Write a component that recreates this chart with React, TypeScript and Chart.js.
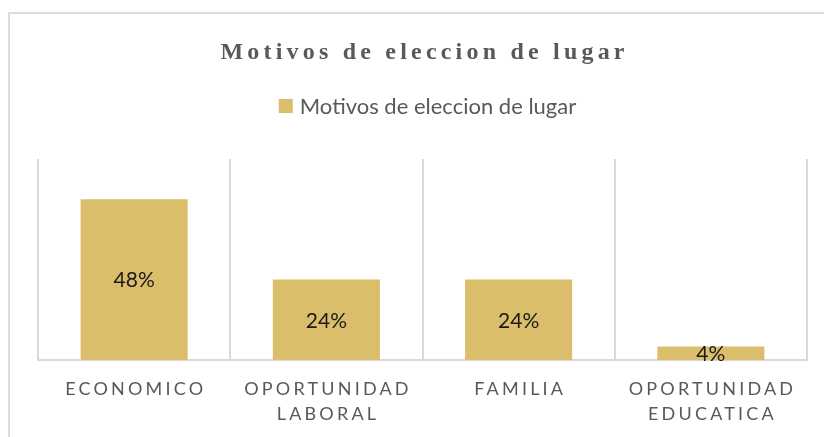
import React, { useEffect, useRef } from "react";
import { Chart, registerables } from "chart.js";

Chart.register(...registerables);

// ---- data ----
const categories: string[][] = [
  ["ECONOMICO"],
  ["OPORTUNIDAD", "LABORAL"],
  ["FAMILIA"],
  ["OPORTUNIDAD", "EDUCATICA"],
];
const values: number[] = [0.48, 0.24, 0.24, 0.04];
const valueLabels: string[] = ["48%", "24%", "24%", "4%"];
const seriesName = "Motivos de eleccion de lugar";
const chartTitle = "Motivos de eleccion de lugar";
const yMin = 0;
const yMax = 0.6;

const BAR_COLOR = "#DBBE6B";
const GRID_COLOR = "#d9d9d9";
const TEXT_GRAY = "#595959";
const SANS = "Lato, 'Open Sans', sans-serif";

const decorPlugin = {
  id: "decor",
  beforeDraw(chart: any) {
    const ctx: CanvasRenderingContext2D = chart.ctx;
    ctx.save();
    ctx.fillStyle = "#ffffff";
    ctx.fillRect(0, 0, chart.width, chart.height);
    // outer chart frame (left + top visible)
    ctx.strokeStyle = "#dcdcdc";
    ctx.lineWidth = 2;
    ctx.beginPath();
    ctx.moveTo(9, chart.height);
    ctx.lineTo(9, 13);
    ctx.lineTo(chart.width, 13);
    ctx.stroke();
    ctx.restore();
  },
  afterDraw(chart: any) {
    const ctx: any = chart.ctx;
    const area = chart.chartArea;
    const cx = (area.left + area.right) / 2;

    // Title
    ctx.save();
    ctx.fillStyle = TEXT_GRAY;
    ctx.font = "bold 24px 'Liberation Serif', 'Times New Roman', serif";
    ctx.letterSpacing = "4.2px";
    ctx.textAlign = "center";
    ctx.textBaseline = "alphabetic";
    ctx.fillText(chartTitle, cx + 2.1, 58.5);
    ctx.restore();

    // Legend
    ctx.save();
    ctx.font = `22px ${SANS}`;
    const ds = chart.data.datasets[0];
    const tw = ctx.measureText(ds.label).width;
    const box = 14;
    const gap = 7;
    const total = box + gap + tw;
    const lx = cx + 5 - total / 2;
    ctx.fillStyle = ds.backgroundColor;
    ctx.fillRect(lx, 99, box, box);
    ctx.fillStyle = TEXT_GRAY;
    ctx.textAlign = "left";
    ctx.textBaseline = "alphabetic";
    ctx.fillText(ds.label, lx + box + gap, 114);
    ctx.restore();

    // Category labels (letter-spaced)
    const xScale = chart.scales.x;
    ctx.save();
    ctx.font = `18px ${SANS}`;
    ctx.letterSpacing = "3.2px";
    ctx.fillStyle = TEXT_GRAY;
    ctx.textAlign = "center";
    ctx.textBaseline = "alphabetic";
    (chart.data.labels as string[][]).forEach((lines, i) => {
      const x = xScale.getPixelForValue(i);
      lines.forEach((line, j) => {
        ctx.fillText(line, x + 1.6, area.bottom + 35 + j * 25);
      });
    });
    ctx.restore();

    // Data labels
    const meta = chart.getDatasetMeta(0);
    ctx.save();
    ctx.font = `21px ${SANS}`;
    ctx.fillStyle = "#1a1a1a";
    ctx.textAlign = "center";
    ctx.textBaseline = "middle";
    meta.data.forEach((el: any, i: number) => {
      const y = (el.y + el.base) / 2;
      ctx.fillText(valueLabels[i], el.x, y + 1);
    });
    ctx.restore();
  },
};

export default function App() {
  const ref = useRef<HTMLCanvasElement | null>(null);

  useEffect(() => {
    if (!ref.current) return;
    const chart = new Chart(ref.current, {
      type: "bar",
      data: {
        labels: categories as any,
        datasets: [
          {
            label: seriesName,
            data: values,
            backgroundColor: BAR_COLOR,
            barPercentage: 0.557,
            categoryPercentage: 1,
          },
        ],
      },
      options: {
        animation: false,
        responsive: false,
        maintainAspectRatio: false,
        layout: { padding: { left: 38, right: 17, top: 159, bottom: 77 } },
        plugins: {
          legend: { display: false },
          title: { display: false },
          tooltip: { enabled: false },
        },
        scales: {
          x: {
            grid: { offset: true, color: GRID_COLOR, lineWidth: 2, drawTicks: false },
            border: { color: GRID_COLOR, width: 2 },
            ticks: { display: false },
          },
          y: { display: false, min: yMin, max: yMax },
        },
      },
      plugins: [decorPlugin],
    });
    return () => chart.destroy();
  }, []);

  return (
    <div style={{ position: "fixed", left: 0, top: 0, width: 824, height: 437, background: "#fff" }}>
      <canvas ref={ref} width={824} height={437} style={{ display: "block", width: 824, height: 437 }} />
    </div>
  );
}
